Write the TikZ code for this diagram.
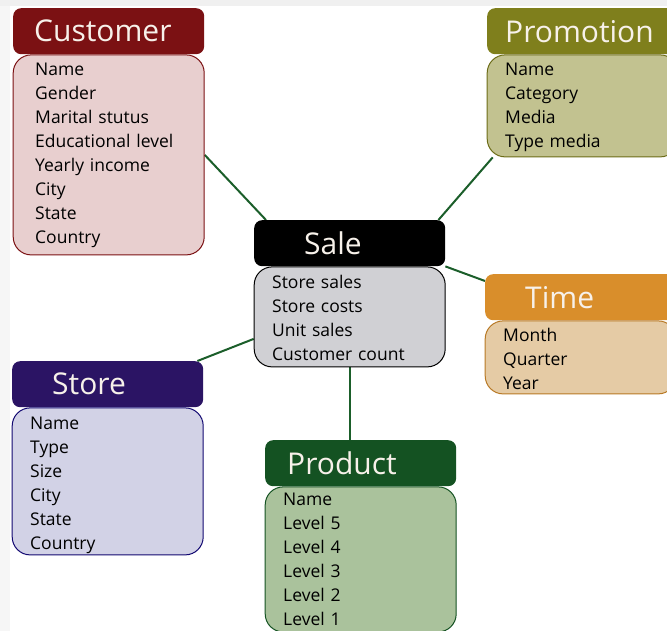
\documentclass[tikz,border=0pt]{standalone}
\usepackage{fontspec}
\setmainfont{Open Sans}
\usetikzlibrary{positioning,backgrounds}
\definecolor{custdark}{HTML}{7B1113}
\definecolor{custlight}{HTML}{E8CFCF}
\definecolor{promodark}{HTML}{7F7F1C}
\definecolor{promolight}{HTML}{C2C290}
\definecolor{saledark}{HTML}{000000}
\definecolor{salelight}{HTML}{D0D0D4}
\definecolor{timedark}{HTML}{D98E2B}
\definecolor{timelight}{HTML}{E5CBA5}
\definecolor{storedark}{HTML}{2B1464}
\definecolor{storelight}{HTML}{D2D2E6}
\definecolor{proddark}{HTML}{145222}
\definecolor{prodlight}{HTML}{AAC29C}
\definecolor{linkgreen}{HTML}{1B5E2A}
\definecolor{headtext}{HTML}{F7F1EA}
\tikzset{
    head/.style={rounded corners=8pt, anchor=north west, inner xsep=0pt,
        text width=191pt, minimum height=46pt, align=left,
        text=headtext, font=\fontsize{30}{32}\selectfont},
    attrs/.style={rounded corners=18pt, line width=1pt, inner xsep=18pt,
        text width=155pt, align=left, text=black,
        font=\fontsize{17.5}{24}\selectfont},
    link/.style={draw=linkgreen, line width=2pt},
}
\begin{document}
\begin{tikzpicture}[x=1pt,y=-1pt]
        \useasboundingbox (0,0) rectangle (667,631);
        % entities
        \node[head, fill=custdark] (cust_h) at (13,8) {\hspace*{21pt}Customer};
        \node[attrs, draw=custdark, fill=custlight, minimum height=200pt,
            inner xsep=22pt, text width=147pt,
            below=0pt of cust_h] (cust_b)
            {Name\\Gender\\Marital stutus\\Educational level\\Yearly income\\City\\State\\Country};
        \node[head, fill=promodark] (promo_h) at (487,8) {\hspace*{18pt}Promotion};
        \node[attrs, draw=promodark!85!black, fill=promolight, minimum height=102pt,
            below=0pt of promo_h] (promo_b)
            {\rule{0pt}{15pt}Name\\Category\\Media\\Type media};
        \node[head, fill=saledark] (sale_h) at (254,220) {\hspace*{50pt}Sale};
        \node[attrs, draw=saledark, fill=salelight, minimum height=100pt,
            below=0pt of sale_h] (sale_b)
            {\rule{0pt}{16pt}Store sales\\Store costs\\Unit sales\\Customer count};
        \node[head, fill=timedark] (time_h) at (485,274) {\hspace*{40pt}Time};
        \node[attrs, draw=timedark!85!black, fill=timelight, minimum height=73pt,
            below=0pt of time_h] (time_b)
            {\rule{0pt}{16pt}Month\\Quarter\\Year};
        \node[head, fill=storedark] (store_h) at (12,361) {\hspace*{40pt}Store};
        \node[attrs, draw=storedark!60!blue!70!black, fill=storelight, minimum height=147pt,
            inner ysep=1pt, below=0pt of store_h] (store_b)
            {\rule{0pt}{20pt}Name\\Type\\Size\\City\\State\\Country};
        \node[head, fill=proddark] (prod_h) at (265,440) {\hspace*{22pt}Product};
        \node[attrs, draw=proddark, fill=prodlight, minimum height=145pt,
            below=0pt of prod_h] (prod_b)
            {Name\\Level 5\\Level 4\\Level 3\\Level 2\\Level 1};
        % links to the fact table
        \begin{scope}[on background layer]
            \fill[gray!12] (0,0) rectangle (667,6);
            \fill[gray!7] (0,6) rectangle (10,631);
            \path[link] (cust_b.east) -- ([xshift=12pt]sale_h.north west);
            \path[link] ([xshift=6pt]promo_b.south west) -- ([xshift=-7pt]sale_h.north east);
            \path[link] (sale_h.south east) -- ([yshift=-7pt]time_h.north west);
            \path[link] ([xshift=-6pt]store_h.north east) -- ([yshift=-22pt]sale_b.west);
            \path[link] (sale_b.south) -- (sale_b.south |- prod_h.north);
        \end{scope}
\end{tikzpicture}
\end{document}
